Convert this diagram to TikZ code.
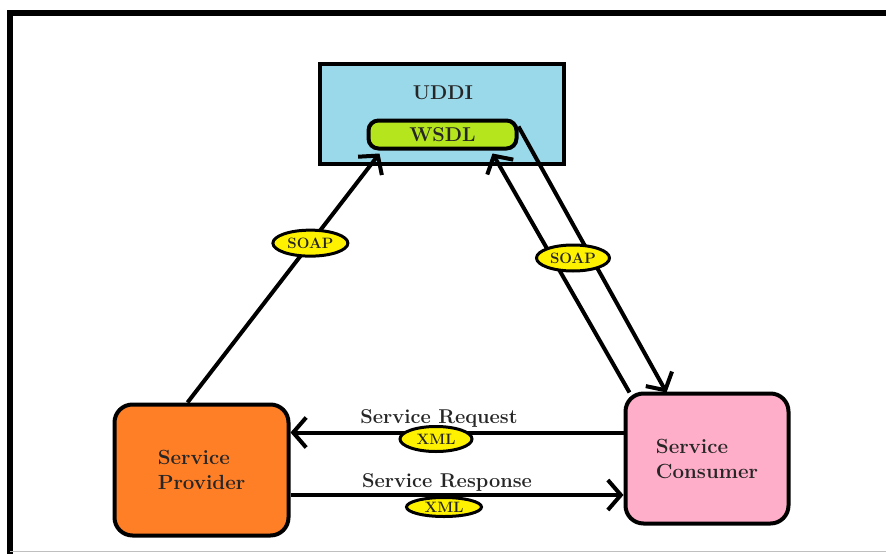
\documentclass[tikz,border=0pt]{standalone}
\usetikzlibrary{arrows.meta,shapes.geometric}
\definecolor{uddiblue}{HTML}{99D9EA}
\definecolor{wsdlgreen}{HTML}{B5E61D}
\definecolor{provorange}{HTML}{FF7F27}
\definecolor{conspink}{HTML}{FFAEC9}
\definecolor{tagyellow}{HTML}{FFF200}
\begin{document}
\begin{tikzpicture}[x=1pt,y=-1pt,line width=4pt,
	box/.style={draw,rounded corners=18pt,inner sep=0pt,align=left,
		font=\fontsize{20.5}{25}\selectfont\bfseries,text=black!85},
	tag/.style={ellipse,draw,fill=tagyellow,line width=3pt,inner sep=0pt,
		font=\fontsize{15}{16}\selectfont\bfseries,text=black!85},
	lbl/.style={font=\fontsize{20}{24}\selectfont\bfseries,text=black!85},
	link/.style={-{Straight Barb[length=13pt,width=30pt]}}]
	\useasboundingbox (0,0) rectangle (886,554);
	
	%FRAME
	\draw[line width=6pt] (10,554)--(10,13)--(886,13);
	\draw[line width=1pt,black!25] (10,551.5)--(886,551.5);
	
	%REGISTRY
	\node[draw,fill=uddiblue,minimum width=244pt,minimum height=100pt] (uddi) at (442,114) {};
	\node[lbl] (uddilbl) at (443,93) {UDDI};
	\node[draw,fill=wsdlgreen,rounded corners=10pt,minimum width=148pt,minimum height=28pt,
		lbl] (wsdl) at (442.5,134.5) {WSDL};
	
	%PARTIES
	\node[box,fill=provorange,minimum width=174pt,minimum height=131pt] (prov) at (201.5,470) {Service\\Provider};
	\node[box,fill=conspink,minimum width=163pt,minimum height=130pt] (cons) at (707,458.5) {Service\\Consumer};
	
	%PUBLISH AND FIND
	\draw[link] ([xshift=-14pt]prov.north) -- ([xshift=13pt,yshift=-3pt]wsdl.south west)
		node[tag,pos=0.64,minimum width=75pt,minimum height=26pt] (soapl) {SOAP};
	\draw[link] ([xshift=6pt,yshift=-1pt]cons.north west) -- ([xshift=-26pt,yshift=-3pt]wsdl.south east);
	\draw[link] ([yshift=8pt]wsdl.east) -- ([xshift=43pt,yshift=-1pt]cons.north west);
	\node[tag,minimum width=73pt,minimum height=26pt] (soapr) at (573,258) {SOAP};
	
	%BIND
	\draw[link] ([yshift=26pt]cons.west) -- ([yshift=26pt]cons.west -| prov.east);
	\draw[link] ([yshift=-25pt]prov.east) -- ([yshift=-25pt]prov.east -| cons.west);
	%
	\node[lbl,anchor=base] (reqlbl) at (439,423) {Service Request};
	\node[tag,minimum width=72pt,minimum height=25pt] (xmlreq) at (436,439) {XML};
	\node[lbl,anchor=base] (reslbl) at (447,487) {Service Response};
	\node[tag,minimum width=75pt,minimum height=19pt] (xmlres) at (444,507) {XML};
\end{tikzpicture}
\end{document}
